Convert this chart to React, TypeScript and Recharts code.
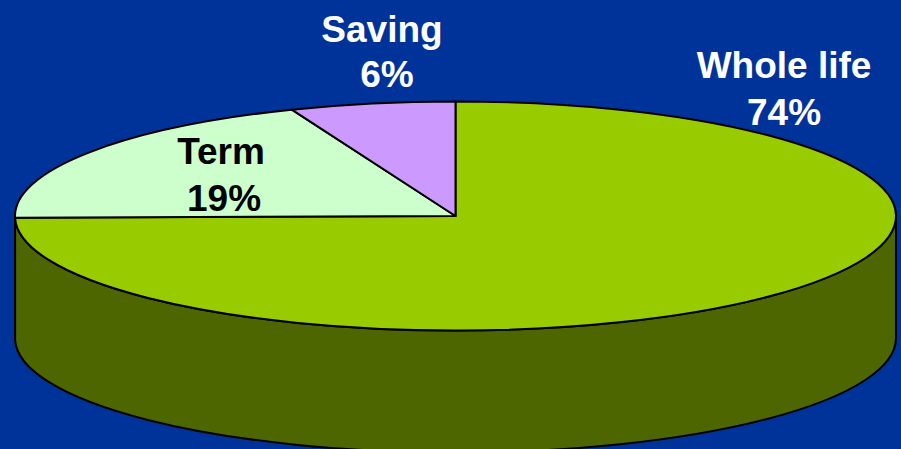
import { Pie, PieChart } from "recharts";

// Policy mix shown as a tilted 3D pie
const categories = ["Whole life", "Term", "Saving"];
const shares = [74, 19, 6];
const topColors = ["#99CC00", "#CCFFCC", "#CC99FF"];
const wallColors = ["#4D6600", "#668066", "#664C80"];
const labelColors = ["#FFFFFF", "#000000", "#FFFFFF"];

const chartData = categories.map((name, i) => ({
  name,
  value: shares[i],
  fill: topColors[i],
  wall: wallColors[i],
}));

const WIDTH = 901;
const HEIGHT = 449;
const CX = 455.5;
const CY = 216;
const RADIUS = 440.5;
const TILT = 0.26; // vertical squash of the disc
const DEPTH = 122; // height of the side wall

// Centre of the name line, centre of the percent line, and their baselines
const labelAnchors = [
  { x: 784, valueX: 784, y: 78, lineGap: 47 },
  { x: 221, valueX: 224, y: 164, lineGap: 47 },
  { x: 382, valueX: 387, y: 42, lineGap: 45 },
];

const rad = (deg: number) => (deg * Math.PI) / 180;

const ellipsePoint = (angle: number, cx: number, cy: number, r: number) => ({
  x: cx + r * Math.cos(rad(angle)),
  y: cy - r * TILT * Math.sin(rad(angle)),
});

// Pie slice squashed to an ellipse, with its share of the side wall underneath
const TiltedSlice = (props: any) => {
  const { cx, cy, outerRadius: r, startAngle, endAngle, fill, wall } = props;
  const ry = r * TILT;
  const start = ellipsePoint(startAngle, cx, cy, r);
  const end = ellipsePoint(endAngle, cx, cy, r);
  const large = Math.abs(startAngle - endAngle) > 180 ? 1 : 0;
  const top = `M${cx},${cy} L${start.x},${start.y} A${r},${ry} 0 ${large} 1 ${end.x},${end.y} Z`;

  // only the part of the rim facing the viewer (angles 0 to -180) has a wall
  const wallStart = Math.min(startAngle, 0);
  const wallEnd = Math.max(endAngle, -180);
  let side = null;
  if (wallStart > wallEnd) {
    const a = ellipsePoint(wallStart, cx, cy, r);
    const b = ellipsePoint(wallEnd, cx, cy, r);
    side = (
      <path
        d={`M${a.x},${a.y} A${r},${ry} 0 0 1 ${b.x},${b.y} L${b.x},${b.y + DEPTH} A${r},${ry} 0 0 0 ${a.x},${a.y + DEPTH} Z`}
        fill={wall}
        stroke="#000"
        strokeWidth={2}
        strokeLinejoin="round"
      />
    );
  }

  return (
    <g>
      {side}
      <path d={top} fill={fill} stroke="#000" strokeWidth={2} strokeLinejoin="round" />
    </g>
  );
};

const renderLabel = (props: any) => {
  const { index, name, value } = props;
  const anchor = labelAnchors[index];
  return (
    <text
      key={name}
      textAnchor="middle"
      fill={labelColors[index]}
      fontFamily="'Liberation Sans', Arial, sans-serif"
      fontWeight="bold"
      fontSize={37}
    >
      <tspan x={anchor.x} y={anchor.y}>
        {name}
      </tspan>
      <tspan x={anchor.valueX} y={anchor.y + anchor.lineGap}>
        {value}%
      </tspan>
    </text>
  );
};

export default function App() {
  return (
    <div
      style={{
        position: "absolute",
        left: 0,
        top: 0,
        width: WIDTH,
        height: HEIGHT,
        overflow: "hidden",
        background: "#003399",
      }}
    >
      <PieChart width={WIDTH} height={HEIGHT} margin={{ top: 0, right: 0, bottom: 0, left: 0 }}>
        <Pie
          data={chartData}
          dataKey="value"
          nameKey="name"
          cx={CX}
          cy={CY}
          innerRadius={0}
          outerRadius={RADIUS}
          startAngle={90}
          endAngle={-270}
          paddingAngle={0}
          shape={TiltedSlice}
          label={renderLabel}
          labelLine={false}
          isAnimationActive={false}
        />
      </PieChart>
    </div>
  );
}
